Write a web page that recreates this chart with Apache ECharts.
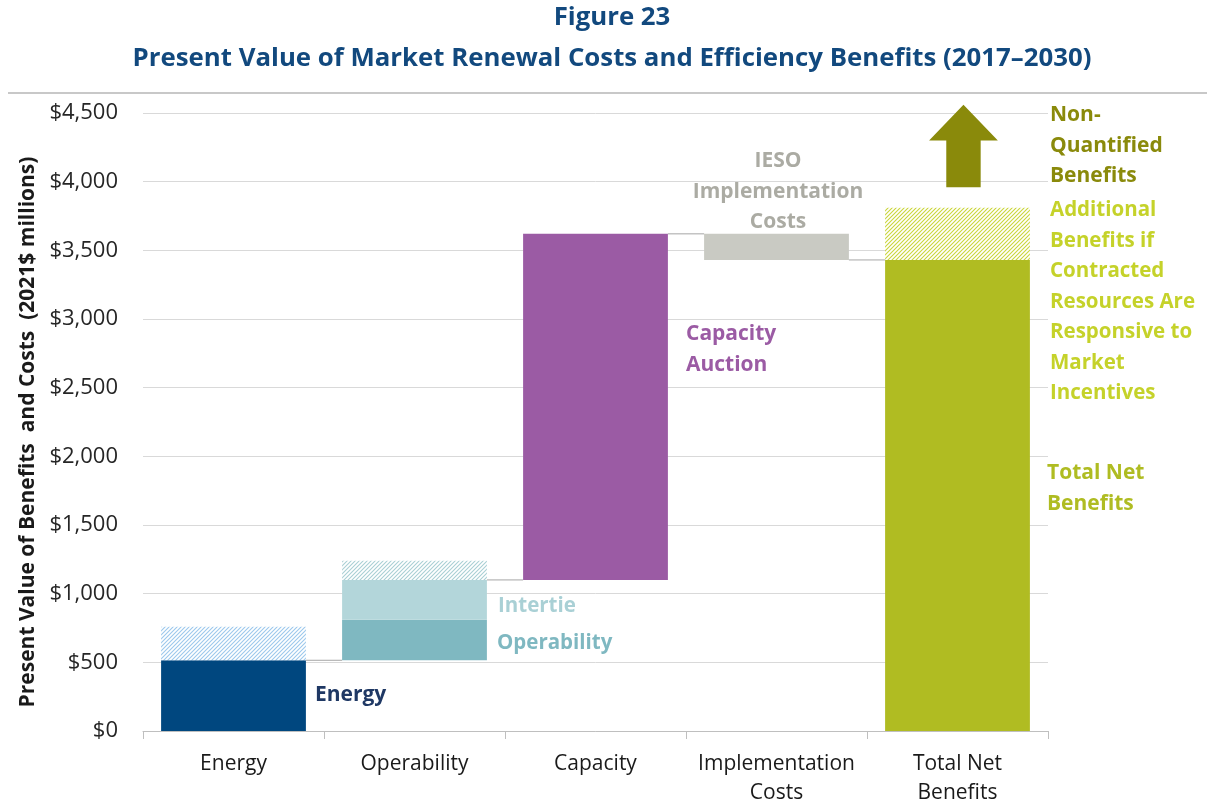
<!DOCTYPE html>
<html><head><meta charset="utf-8">
<script src="https://cdn.jsdelivr.net/npm/echarts@6/dist/echarts.min.js"></script>
<style>html,body{margin:0;padding:0;background:#fff}#c{width:1207px;height:808px}</style>
</head><body><div id="c"></div>
<script>
// ---- data ----
const categories = ['Energy', 'Operability', 'Capacity', 'Implementation\nCosts', 'Total Net\nBenefits'];
const yTicks = [0, 500, 1000, 1500, 2000, 2500, 3000, 3500, 4000, 4500];
// invisible offset for floating (waterfall) bars
const baseValues = [0, 515, 1100, 3430, 0];
// Energy, Operability, Capacity Auction, IESO Implementation Costs, Total Net Benefits
const mainValues = [515, 295, 2520, 190, 3430];
// Intertie (stacked on Operability)
const intertieValues = [0, 290, 0, 0, 0];
// hatched: additional benefits if contracted resources are responsive
const hatchValues = [245, 140, 0, 0, 380];
// waterfall connectors: [fromCategory, toCategory, level]
const connectors = [[0, 1, 515], [1, 2, 1100], [2, 3, 3620], [3, 4, 3430]];
// non-quantified benefits arrow: [category, shaftBottom, headBase, tip]
const arrowData = [[4, 3960, 4300, 4560]];

const mainColors = ['#00477F', '#7FB8C1', '#9B5BA4', '#C9CAC3', '#B0BC22'];
const hatchColors = ['#9CC8EC', '#A9CFD4', '#D2DB55', '#D2DB55', '#CAD53A'];

function hatch(color) {
  const c = document.createElement('canvas');
  c.width = 4; c.height = 4;
  const ctx = c.getContext('2d');
  ctx.fillStyle = '#ffffff'; ctx.fillRect(0, 0, 4, 4);
  ctx.strokeStyle = color; ctx.lineWidth = 1.1;
  ctx.beginPath();
  ctx.moveTo(-1, 5); ctx.lineTo(5, -1);
  ctx.moveTo(-3, 3); ctx.lineTo(3, -3);
  ctx.moveTo(1, 7); ctx.lineTo(7, 1);
  ctx.stroke();
  return { image: c, repeat: 'repeat' };
}

const FONT = '"Open Sans", "Noto Sans", sans-serif';
const chart = echarts.init(document.getElementById('c'), null, { renderer: 'canvas' });

function label(text, x, y, color, size, align) {
  return { type: 'text', x: x, y: y, silent: true,
    style: { text: text, fill: color, fontSize: size || 21, fontWeight: 'bold', fontFamily: FONT,
      lineHeight: 30.5, align: align || 'left', verticalAlign: 'top' } };
}

const option = {
  backgroundColor: '#ffffff',
  animation: false,
  title: {
    text: 'Figure 23\nPresent Value of Market Renewal Costs and Efficiency Benefits (2017\u20132030)',
    left: 612, textAlign: 'center', top: -2.5, padding: 0,
    textStyle: { color: '#12497E', fontSize: 25.8, fontWeight: 'bold', fontFamily: FONT, lineHeight: 41 }
  },
  grid: { left: 143, width: 905, top: 113, height: 623, containLabel: false },
  xAxis: {
    type: 'category', data: categories,
    axisLine: { lineStyle: { color: '#BFBFBF', width: 1 } },
    axisTick: { show: true, length: 8, lineStyle: { color: '#BFBFBF' } },
    axisLabel: { interval: 0, fontSize: 21, color: '#1a1a1a', fontFamily: FONT, margin: 18, lineHeight: 29.5 },
    splitLine: { show: false }
  },
  yAxis: {
    type: 'value', min: 0, max: 4500, interval: 500,
    name: 'Present Value of Benefits  and Costs  (2021$ millions)',
    nameLocation: 'middle', nameGap: 99, nameRotate: 90,
    nameTextStyle: { fontSize: 21, fontWeight: 'bold', color: '#1a1a1a', fontFamily: FONT, padding: [0, 20, 0, 0] },
    axisLine: { show: false }, axisTick: { show: false },
    axisLabel: { fontSize: 22, color: '#262626', fontFamily: FONT, margin: 25,
      formatter: v => yTicks.includes(v) ? '$' + v.toLocaleString('en-US') : '' },
    splitLine: { lineStyle: { color: '#D9D9D9', width: 1 } }
  },
  graphic: [
    { type: 'line', shape: { x1: 8, y1: 93, x2: 1207, y2: 93 }, style: { stroke: '#C8C8C8', lineWidth: 2 }, silent: true },
    label('Non-\nQuantified\nBenefits', 1050, 100, '#8A8A0B'),
    label('Additional\nBenefits if\nContracted\nResources Are\nResponsive to\nMarket\nIncentives', 1050, 195, '#C5D22A', 20.5),
    label('Total Net\nBenefits', 1047, 458, '#AFBC22'),
    label('Capacity\nAuction', 686, 319, '#9B5BA4'),
    label('IESO\nImplementation\nCosts', 778, 146, '#ABABA3', 21, 'center'),
    label('Intertie', 498, 591, '#A9D0D5', 20.5),
    label('Operability', 497, 628, '#7FB8C1', 20.5),
    label('Energy', 315, 680, '#1F3864')
  ],
  series: [
    { type: 'bar', stack: 'w', barCategoryGap: '20%', data: baseValues,
      itemStyle: { color: 'rgba(0,0,0,0)' }, silent: true },
    { type: 'bar', stack: 'w', data: mainValues.map((v, i) => ({ value: v, itemStyle: { color: mainColors[i] } })) },
    { type: 'bar', stack: 'w', data: intertieValues.map(v => ({ value: v, itemStyle: { color: '#B3D6DA' } })) },
    { type: 'bar', stack: 'w', data: hatchValues.map((v, i) => ({ value: v, itemStyle: { color: hatch(hatchColors[i]) } })) },
    { type: 'custom', data: connectors, encode: { x: 0, y: 2 }, z: 5,
      renderItem: function (params, api) {
        const bw = api.size([1, 0])[0];
        const y = api.coord([0, api.value(2)])[1];
        const x1 = api.coord([api.value(0), 0])[0] + bw * 0.4;
        const x2 = api.coord([api.value(1), 0])[0] - bw * 0.4;
        return { type: 'line', shape: { x1: x1, y1: y, x2: x2, y2: y }, style: { stroke: '#A6A6A6', lineWidth: 1 } };
      } },
    { type: 'custom', data: arrowData, encode: { x: 0, y: 1 }, clip: false, z: 5,
      renderItem: function (params, api) {
        const bw = api.size([1, 0])[0];
        const cx = api.coord([api.value(0), 0])[0] + bw * 0.033;
        const yb = api.coord([0, api.value(1)])[1];
        const yh = api.coord([0, api.value(2)])[1];
        const yt = api.coord([0, api.value(3)])[1];
        const hw = bw * 0.19, sw = bw * 0.095;
        return { type: 'polygon', shape: { points: [
          [cx - sw, yb], [cx + sw, yb], [cx + sw, yh], [cx + hw, yh], [cx, yt], [cx - hw, yh], [cx - sw, yh]] },
          style: { fill: '#8A8A0B' } };
      } }
  ]
};
chart.setOption(option);
</script></body></html>
